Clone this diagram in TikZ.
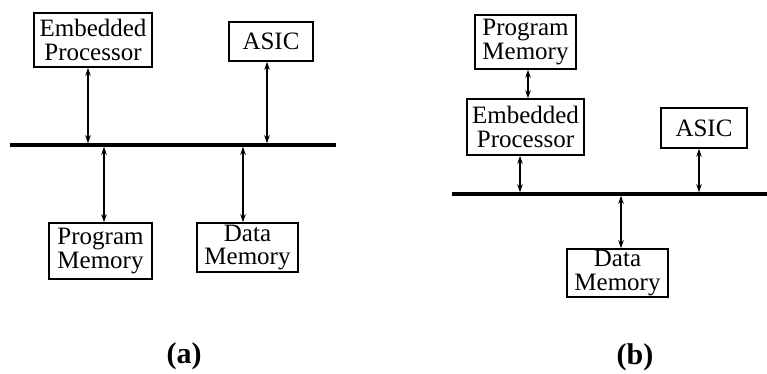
\documentclass[tikz,border=0pt]{standalone}
\usepackage{fontspec}
\setmainfont{Liberation Serif}
\usetikzlibrary{arrows.meta}
\begin{document}
\begin{tikzpicture}[x=1pt,y=-1pt,
  unit/.style={draw,line width=1.6pt,inner sep=0pt,align=center,
    font=\fontsize{25}{23.5}\selectfont},
  link/.style={line width=1.2pt,{Stealth[length=8pt,width=5.5pt]}-{Stealth[length=8pt,width=5.5pt]}},
  bus/.style={line width=3.5pt},
  caption/.style={font=\fontsize{30}{30}\selectfont\bfseries}]
\useasboundingbox (0,0) rectangle (767,373);

% ---- (a): shared bus ----
\node[unit,minimum width=118pt,minimum height=54pt] (epA) at (93,40) {Embedded\\Processor};
\node[unit,minimum width=84pt,minimum height=39pt] (asicA) at (271,41.5) {ASIC};
\node[unit,minimum width=103pt,minimum height=56pt] (pmA) at (100.5,251) {Program\\Memory};
\node[unit,minimum width=101pt,minimum height=49pt] (dmA) at (247.5,247.5) {Data\\Memory};

\coordinate (busAL) at (10,145);
\coordinate (busAR) at (336,145);
\coordinate (tapA1) at (88,145);
\coordinate (tapA2) at (267,145);
\coordinate (tapA3) at (104,145);
\coordinate (tapA4) at (243,145);

\draw[bus] (busAL) -- (busAR);
\draw[link,shorten >=1.75pt] (epA.south -| tapA1) -- (tapA1);
\draw[link,shorten >=1.75pt] (asicA.south -| tapA2) -- (tapA2);
\draw[link,shorten <=1.75pt] (tapA3) -- (pmA.north -| tapA3);
\draw[link,shorten <=1.75pt] (tapA4) -- (dmA.north -| tapA4);

\node[caption] (capA) at (184,356) {(a)};

% ---- (b): program memory local to the processor ----
\node[unit,minimum width=101pt,minimum height=54pt] (pmB) at (525.5,42) {Program\\Memory};
\node[unit,minimum width=117pt,minimum height=56pt] (epB) at (525.5,127) {Embedded\\Processor};
\node[unit,minimum width=86pt,minimum height=40pt] (asicB) at (704,128) {ASIC};
\node[unit,minimum width=101pt,minimum height=48pt] (dmB) at (617.5,273) {Data\\Memory};

\coordinate (busBL) at (452,194);
\coordinate (busBR) at (767,194);
\coordinate (tapB1) at (520,194);
\coordinate (tapB2) at (699,194);
\coordinate (tapB3) at (621,194);
\coordinate (linkB) at (528,0);

\draw[bus] (busBL) -- (busBR);
\draw[link] (pmB.south -| linkB) -- (epB.north -| linkB);
\draw[link,shorten >=1.75pt] (epB.south -| tapB1) -- (tapB1);
\draw[link,shorten >=1.75pt] (asicB.south -| tapB2) -- (tapB2);
\draw[link,shorten <=1.75pt] (tapB3) -- (dmB.north -| tapB3);

\node[caption] (capB) at (635,357) {(b)};
\end{tikzpicture}
\end{document}
